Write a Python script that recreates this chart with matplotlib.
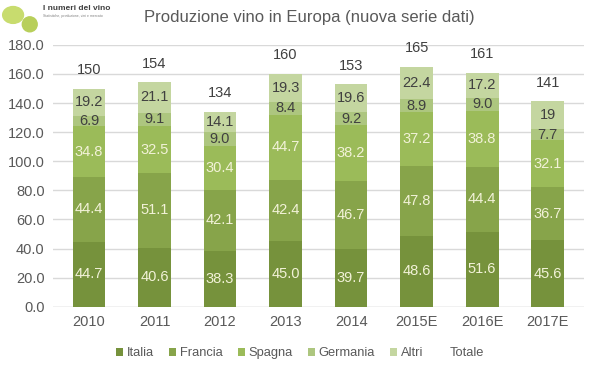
import numpy as np
import matplotlib
matplotlib.use('Agg')
import matplotlib.pyplot as plt
from matplotlib.patches import Ellipse

plt.rcParams['font.family'] = ['Liberation Sans', 'DejaVu Sans']

# data
years = ['2010', '2011', '2012', '2013', '2014', '2015E', '2016E', '2017E']
italia = [44.7, 40.6, 38.3, 45.0, 39.7, 48.6, 51.6, 45.6]
francia = [44.4, 51.1, 42.1, 42.4, 46.7, 47.8, 44.4, 36.7]
spagna = [34.8, 32.5, 30.4, 44.7, 38.2, 37.2, 38.8, 32.1]
germania = [6.9, 9.1, 9.0, 8.4, 9.2, 8.9, 9.0, 7.7]
altri = [19.2, 21.1, 14.1, 19.3, 19.6, 22.4, 17.2, 19]
altri_lbl = ['19.2', '21.1', '14.1', '19.3', '19.6', '22.4', '17.2', '19']
totale = [150, 154, 134, 160, 153, 165, 161, 141]

series = [('Italia', italia, '#76923c', '#f2f2d8'),
          ('Francia', francia, '#87a44a', '#f2f2d8'),
          ('Spagna', spagna, '#9bbb59', '#f2f2d8'),
          ('Germania', germania, '#adc67f', '#404040'),
          ('Altri', altri, '#c4d6a0', '#404040')]

fig = plt.figure(figsize=(5.95, 3.74), dpi=100)
ax = fig.add_axes([0.089, 0.18, 0.892, 0.70])

x = np.arange(len(years))
bottom = np.zeros(len(years))
for name, vals, col, tcol in series:
    vals = np.array(vals, dtype=float)
    ax.bar(x, vals, 0.5, bottom=bottom, color=col, label=name, zorder=2)
    for i, v in enumerate(vals):
        txt = altri_lbl[i] if name == 'Altri' else f'{v:.1f}'
        ax.text(x[i], bottom[i] + v / 2, txt, ha='center', va='center',
                fontsize=10.5, color=tcol, zorder=3)
    bottom += vals

# totale as invisible series with labels
ax.plot(x, totale, color='none', label='Totale')
for i, t in enumerate(totale):
    ax.text(x[i], t + 8, str(t), ha='center', va='bottom', fontsize=10.5, color='#404040')

ax.set_ylim(0, 180)
ax.set_xlim(-0.55, 7.55)
ax.set_yticks(np.arange(0, 181, 20))
ax.set_yticklabels([f'{v:.1f}' for v in np.arange(0, 181, 20)])
ax.set_xticks(x)
ax.set_xticklabels(years)
ax.tick_params(axis='both', length=0, labelsize=10.5, colors='#595959', pad=6)
ax.grid(axis='y', color='#d9d9d9', linewidth=1, zorder=0)
for s in ax.spines.values():
    s.set_visible(False)
ax.axhline(0, color='#d9d9d9', linewidth=1, zorder=1)

fig.text(0.52, 0.952, 'Produzione vino in Europa (nuova serie dati)', ha='center', va='center',
         fontsize=12, color='#595959')

handles, labels = ax.get_legend_handles_labels()
order = [labels.index(n) for n in ['Italia', 'Francia', 'Spagna', 'Germania', 'Altri', 'Totale']]
fig.legend([handles[k] for k in order], [labels[k] for k in order],
           loc='center', bbox_to_anchor=(0.504, 0.055), ncol=6, frameon=False,
           fontsize=9.3, handlelength=0.55, handleheight=0.55, handletextpad=0.3,
           columnspacing=1.15, labelcolor='#595959')

# logo
fig.patches.append(Ellipse((0.022, 0.96), 0.035, 0.045, transform=fig.transFigure, color='#c8dc6e', zorder=5))
fig.patches.append(Ellipse((0.05, 0.935), 0.025, 0.04, transform=fig.transFigure, color='#b8cf5a', zorder=5))
fig.text(0.072, 0.978, 'I numeri del vino', fontsize=6, color='#404040', va='center', fontweight='bold')
fig.text(0.072, 0.957, 'Statistiche, produzione, vini e mercato', fontsize=2.5, color='#808080', va='center')

fig.savefig('out.png', dpi=100)
